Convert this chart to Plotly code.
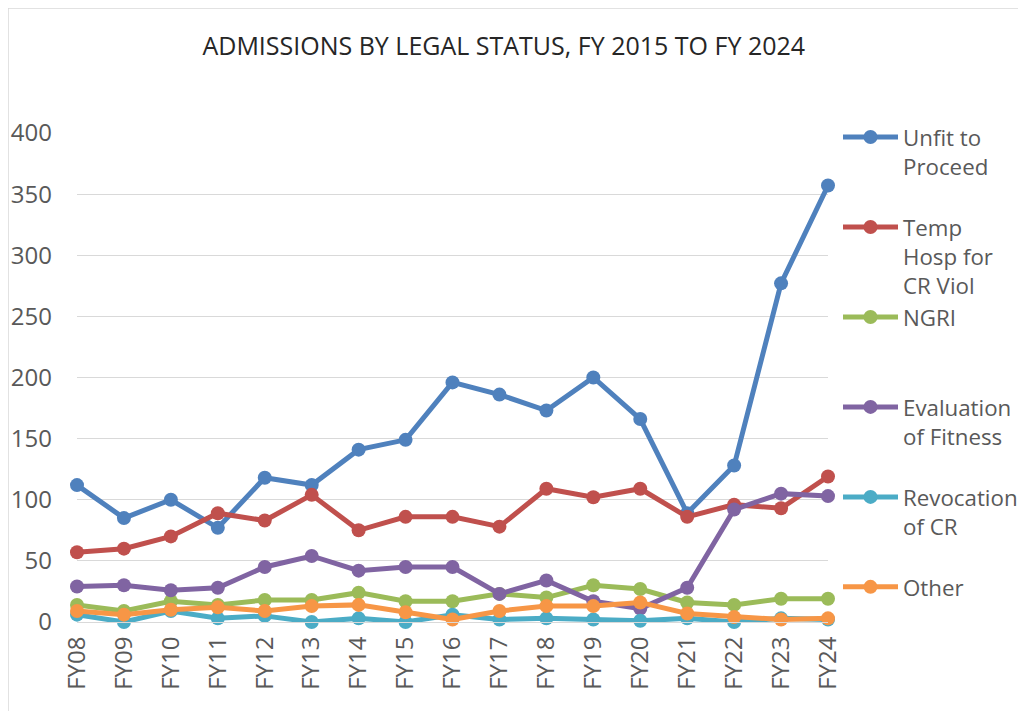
import plotly.graph_objects as go

categories = ["FY08", "FY09", "FY10", "FY11", "FY12", "FY13", "FY14", "FY15", "FY16",
              "FY17", "FY18", "FY19", "FY20", "FY21", "FY22", "FY23", "FY24"]

unfit = [112, 85, 100, 77, 118, 112, 141, 149, 196, 186, 173, 200, 166, 89, 128, 277, 357]
temp_hosp = [57, 60, 70, 89, 83, 104, 75, 86, 86, 78, 109, 102, 109, 86, 96, 93, 119]
ngri = [14, 9, 17, 14, 18, 18, 24, 17, 17, 23, 20, 30, 27, 16, 14, 19, 19]
evaluation = [29, 30, 26, 28, 45, 54, 42, 45, 45, 23, 34, 17, 11, 28, 92, 105, 103]
revocation = [6, 0, 9, 3, 5, 0, 3, 0, 6, 2, 3, 2, 1, 3, 0, 3, 2]
other = [9, 6, 10, 12, 9, 13, 14, 8, 2, 9, 13, 13, 16, 7, 4, 2, 3]

series = [
    ("Unfit to<br>Proceed<br> ", unfit, "#4F81BD"),
    ("Temp<br>Hosp for<br>CR Viol", temp_hosp, "#C0504D"),
    ("NGRI<br> <br> ", ngri, "#9BBB59"),
    ("Evaluation<br>of Fitness<br> ", evaluation, "#8064A2"),
    ("Revocation<br>of CR<br> ", revocation, "#4BACC6"),
    ("Other", other, "#F79646"),
]

FONT = "Open Sans"
W, H = 1018, 703
L, R, T, B = 69, 198, 125, 89
PW, PH = W - L - R, H - T - B

fig = go.Figure()
for name, vals, color in series:
    fig.add_trace(go.Scatter(
        x=categories, y=vals, name=name, mode="lines+markers",
        line=dict(color=color, width=5),
        marker=dict(color=color, size=14),
        legendgroup=name, cliponaxis=False,
    ))

fig.update_layout(
    width=W, height=H,
    margin=dict(l=L, r=R, t=T, b=B, autoexpand=False),
    paper_bgcolor="white", plot_bgcolor="white",
    title=dict(text="ADMISSIONS BY LEGAL STATUS, FY 2015 TO FY 2024",
               x=0.487, xanchor="center", y=1 - 38 / H, yanchor="middle",
               font=dict(family=FONT, size=25, color="#262626")),
    font=dict(family=FONT, size=22, color="#595959"),
    showlegend=True,
    legend=dict(x=(830 - L) / PW, xanchor="left", y=(H - B - 108) / PH, yanchor="top",
                valign="top", itemwidth=55, tracegroupgap=0, maxheight=1,
                font=dict(family=FONT, size=22.3, color="#595959"),
                bgcolor="rgba(0,0,0,0)"),
    xaxis=dict(type="category", range=[0, 16], showgrid=False,
               showline=True, linecolor="#D9D9D9", linewidth=1,
               tickangle=-90, ticks="", ticklabelstandoff=4,
               tickfont=dict(size=24, color="#595959"),
               zeroline=False, fixedrange=True),
    yaxis=dict(range=[0, 400], dtick=50, showgrid=True, gridcolor="#D9D9D9",
               gridwidth=1, zeroline=False, ticks="", ticklabelstandoff=24,
               tickfont=dict(size=24, color="#595959"), fixedrange=True),
    shapes=[dict(type="rect", xref="paper", yref="paper",
                 x0=(0 - L) / PW, x1=(1040 - L) / PW,
                 y0=-(B + 20) / PH, y1=(PH + T - 0) / PH,
                 line=dict(color="#D9D9D9", width=1.5), layer="below")],
)

fig.write_html("out.html")
